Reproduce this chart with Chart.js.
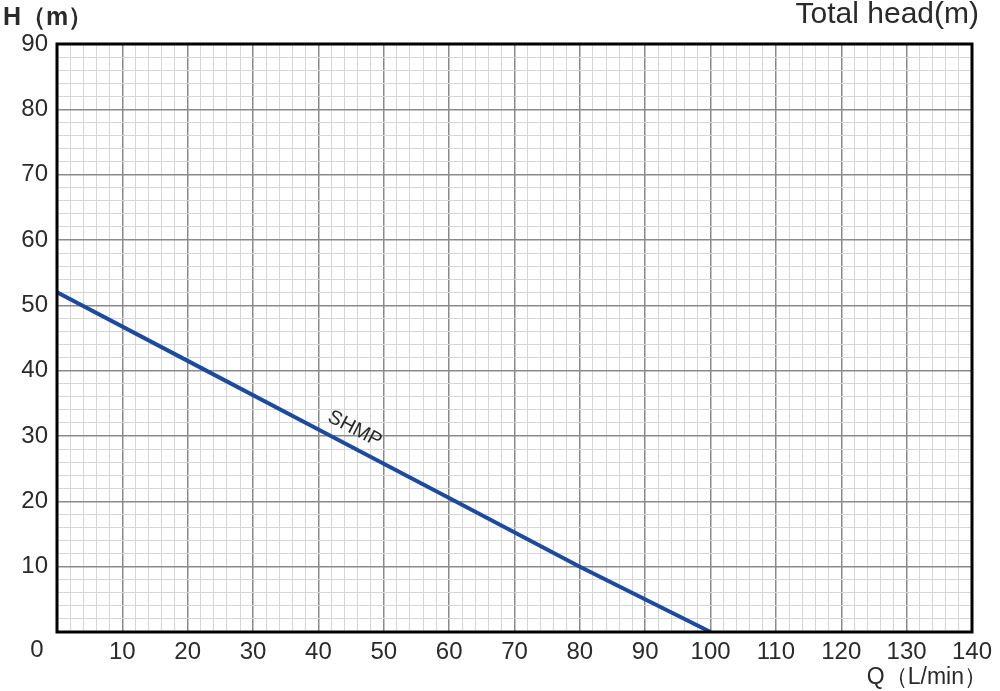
<!DOCTYPE html>
<html>
<head>
<meta charset="utf-8">
<script src="https://cdn.jsdelivr.net/npm/chart.js@4/dist/chart.umd.min.js"></script>
<style>
  html, body { margin: 0; padding: 0; background: #fff; }
  #wrap { width: 1000px; height: 691px; }
</style>
</head>
<body>
<div id="wrap"><canvas id="pumpChart" width="1000" height="691"></canvas></div>
<script>
// Pump curve data
const flowQ = [0, 20, 40, 60, 80, 100];
const headH = [52, 41.5, 31, 20.5, 10, 0];
const curveName = 'SHMP';

// Axis ranges
const xMax = 140;
const yMax = 90;

Chart.defaults.font.family = "'Liberation Sans', Arial, sans-serif";
Chart.defaults.color = '#2a2a2a';

// Frame, axis titles and the curve label
const decorations = {
    id: 'decorations',
    afterDraw(chart) {
        const c = chart.ctx;
        const a = chart.chartArea;
        c.save();
        c.strokeStyle = '#000';
        c.lineWidth = 3;
        c.strokeRect(a.left, a.top, a.right - a.left, a.bottom - a.top);

        c.fillStyle = '#2a2a2a';
        c.textBaseline = 'middle';
        c.font = "bold 25px 'Liberation Sans', Arial, sans-serif";
        c.textAlign = 'left';
        c.fillText('H（m）', 3, 18);
        c.font = "30px 'Liberation Sans', Arial, sans-serif";
        c.textAlign = 'right';
        c.fillText('Total head(m)', 979, 15);
        c.font = "23px 'Liberation Sans', Arial, sans-serif";
        c.fillText('Q（L/min）', 987, 678);
        c.textAlign = 'center';
        c.font = "24px 'Liberation Sans', Arial, sans-serif";
        c.fillText('0', 37, 650);

        // curve name, rotated along the line
        const xs = chart.scales.x, ys = chart.scales.y;
        const p0x = xs.getPixelForValue(flowQ[0]), p0y = ys.getPixelForValue(headH[0]);
        const p1x = xs.getPixelForValue(flowQ[flowQ.length - 1]), p1y = ys.getPixelForValue(headH[headH.length - 1]);
        const ang = Math.atan2(p1y - p0y, p1x - p0x);
        c.translate(xs.getPixelForValue(44.5), ys.getPixelForValue(29));
        c.rotate(ang);
        c.font = "20px 'Liberation Sans', Arial, sans-serif";
        c.fillText(curveName, 0, -15);
        c.restore();
    }
};

new Chart(document.getElementById('pumpChart'), {
    type: 'line',
    data: {
        datasets: [{
            label: curveName,
            data: flowQ.map((q, i) => ({ x: q, y: headH[i] })),
            borderColor: '#1c4a9e',
            borderWidth: 4,
            pointRadius: 0,
            tension: 0,
            fill: false
        }]
    },
    options: {
        responsive: false,
        animation: false,
        layout: { padding: { left: 0, right: 28, top: 44, bottom: 0 } },
        plugins: {
            legend: { display: false },
            tooltip: { enabled: false }
        },
        scales: {
            x: {
                type: 'linear',
                min: 0,
                max: xMax,
                afterFit: s => { s.height = 59; },
                border: { display: false },
                grid: {
                    drawTicks: false,
                    color: ctx => ctx.tick.value % 10 === 0 ? '#8a8a8a' : '#d6d6d6',
                    lineWidth: ctx => ctx.tick.value % 10 === 0 ? 1.5 : 1
                },
                ticks: {
                    stepSize: 2,
                    autoSkip: false,
                    maxRotation: 0,
                    padding: 6,
                    font: { size: 24 },
                    callback: v => (v % 10 === 0 && v !== 0) ? v : ''
                }
            },
            y: {
                type: 'linear',
                min: 0,
                max: yMax,
                afterFit: s => { s.width = 57; },
                border: { display: false },
                grid: {
                    drawTicks: false,
                    color: ctx => ctx.tick.value % 10 === 0 ? '#8a8a8a' : '#d6d6d6',
                    lineWidth: ctx => ctx.tick.value % 10 === 0 ? 1.5 : 1
                },
                ticks: {
                    stepSize: 2,
                    autoSkip: false,
                    padding: 9,
                    font: { size: 24 },
                    callback: v => (v % 10 === 0 && v !== 0) ? v : ''
                }
            }
        }
    },
    plugins: [decorations]
});
</script>
</body>
</html>
